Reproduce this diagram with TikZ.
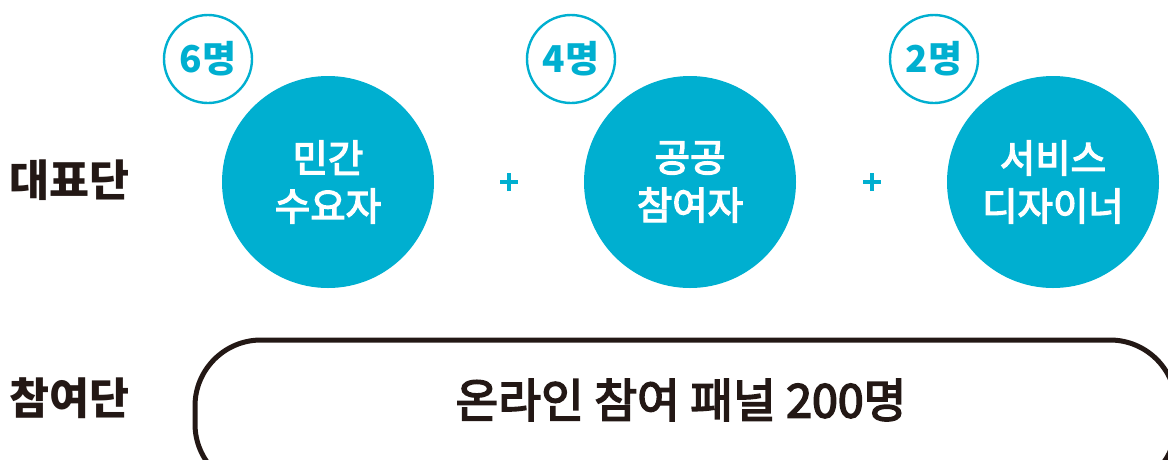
\documentclass[tikz,border=0pt]{standalone}
\usepackage{fontspec}
\setmainfont{Noto Sans CJK KR}
\newfontfamily\medfont[FakeBold=3.5]{Noto Sans CJK KR}
\definecolor{cy}{HTML}{00AFD0}
\definecolor{dk}{HTML}{231815}
\tikzset{
  big/.style={circle, fill=cy, minimum size=212pt, inner sep=0pt, text=white, align=center, font=\medfont\fontsize{38.5}{48}\selectfont},
  cnt/.style={circle, draw=cy, line width=2.4pt, minimum size=88pt, inner sep=0pt, text=cy, font=\fontsize{37}{40}\selectfont\bfseries},
  lbl/.style={text=dk, font=\fontsize{43.5}{48}\selectfont\bfseries, inner sep=0pt, anchor=west},
  plus/.style={cy, line width=4pt}
}
\begin{document}
\begin{tikzpicture}[x=1pt,y=-1pt]
\useasboundingbox (0,0) rectangle (1168,459);
\clip (0,0) rectangle (1168,459);
% big circles
\node[big] (c1) at (328,182) {민간\\수요자};
\node[big] (c2) at (690,182) {공공\\참여자};
\node[big] (c3) at (1053,182) {서비스\\디자이너};
% count circles
\node[cnt] (n1) at (208,59) {6명};
\node[cnt] (n2) at (571,59) {4명};
\node[cnt] (n3) at (934,59) {2명};
% plus signs
\coordinate (p1) at (509,182);
\coordinate (p2) at (872,182);
\draw[plus] ([xshift=-9pt]p1) -- ([xshift=9pt]p1) ([yshift=-9pt]p1) -- ([yshift=9pt]p1);
\draw[plus] ([xshift=-9pt]p2) -- ([xshift=9pt]p2) ([yshift=-9pt]p2) -- ([yshift=9pt]p2);
% row labels
\node[lbl] (r1) at (9,180) {대표단};
\node[lbl] (r2) at (9,398) {참여단};
% panel
\draw[dk, line width=5pt, rounded corners=66pt] (195,340) rectangle (1176,490);
\node[text=dk, font=\medfont\fontsize{46.5}{50}\selectfont, inner sep=0pt] (pan) at (681,400) {온라인 참여 패널 200명};
\end{tikzpicture}
\end{document}
